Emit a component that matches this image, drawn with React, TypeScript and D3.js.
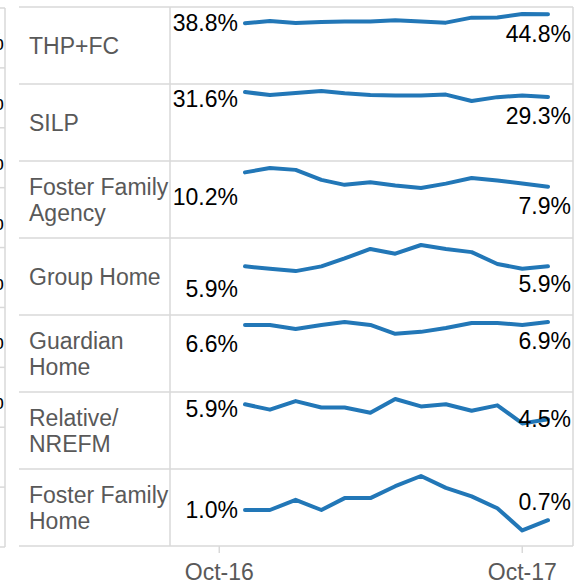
import React from "react";
import * as d3 from "d3";

// ---------- data ----------
const months = [
  "2016-11-01", "2016-12-01", "2017-01-01", "2017-02-01", "2017-03-01", "2017-04-01", "2017-05-01",
  "2017-06-01", "2017-07-01", "2017-08-01", "2017-09-01", "2017-10-01", "2017-11-01",
];
const categories = [
  "THP+FC", "SILP", "Foster Family Agency", "Group Home", "Guardian Home", "Relative/NREFM", "Foster Family Home",
];
const categoryLines = [
  ["THP+FC"], ["SILP"], ["Foster Family", "Agency"], ["Group Home"], ["Guardian", "Home"], ["Relative/", "NREFM"], ["Foster Family", "Home"],
];
const thpFc = [38.8, 40.3, 38.9, 39.6, 40.0, 39.9, 40.7, 40.0, 39.2, 42.5, 42.6, 44.9, 44.8];
const silp = [31.6, 30.2, 31.2, 32.1, 31.0, 30.2, 30.0, 30.0, 30.4, 27.4, 29.2, 30.0, 29.3];
const fosterFamilyAgency = [10.2, 10.9, 10.6, 9.0, 8.2, 8.6, 8.1, 7.7, 8.4, 9.3, 8.9, 8.4, 7.9];
const groupHome = [5.9, 5.6, 5.3, 5.9, 6.9, 8.1, 7.5, 8.6, 8.1, 7.7, 6.2, 5.6, 5.9];
const guardianHome = [6.6, 6.6, 6.2, 6.6, 6.9, 6.6, 5.7, 5.9, 6.3, 6.8, 6.8, 6.6, 6.9];
const relativeNrefm = [5.9, 5.4, 6.2, 5.6, 5.6, 5.1, 6.4, 5.7, 5.9, 5.3, 5.8, 4.1, 4.5];
const fosterFamilyHome = [1.0, 1.0, 1.3, 1.0, 1.35, 1.35, 1.7, 2.0, 1.65, 1.4, 1.05, 0.4, 0.7];
const seriesValues = [thpFc, silp, fosterFamilyAgency, groupHome, guardianHome, relativeNrefm, fosterFamilyHome];
const tickDates = ["2016-10-01", "2017-10-01"];
const tickLabels = ["Oct-16", "Oct-17"];

// ---------- layout (not data) ----------
const LABEL_SHIFT: [number, number][] = [
  [0, 20], [7, 19], [25, 19], [23, 18], [19, 19], [5, 0], [0, -18],
];
const FONT = "'Liberation Sans', Arial, Helvetica, sans-serif";
const GRID = "#d9d9d9";
const GREY_TEXT = "#595959";
const BLUE = "#2277b7";

export default function App() {
  const W = 583;
  const H = 584;
  const parse = d3.utcParse("%Y-%m-%d");
  const dates = months.map((m) => parse(m) as Date);
  const ext = d3.extent(dates) as [Date, Date];

  const tableLeft = 19;
  const panelLeft = 170;
  const panelRight = 573;
  const x = d3.scaleUtc().domain(ext).range([245, 548]);
  const rows = d3.scaleBand<string>().domain(categories).range([7, 546]);
  const step = rows.step();

  // partial neighbouring table on the far left
  const ghostRows = d3.scaleBand<number>().domain(d3.range(9)).range([8, 547]);

  const fs = 23;

  return (
    <svg
      width={W}
      height={H}
      style={{ position: "absolute", left: 0, top: 0, background: "#fff" }}
      fontFamily={FONT}
    >
      <rect width={W} height={H} fill="#fff" />
      {/* ghost table */}
      <line x1={5} x2={5} y1={ghostRows.range()[0]} y2={ghostRows.range()[1]} stroke={GRID} strokeWidth={1.5} />
      {d3.range(10).map((i) => {
        const y = ghostRows.range()[0] + i * ghostRows.step();
        return <line key={"g" + i} x1={0} x2={5} y1={y} y2={y} stroke={GRID} strokeWidth={1.5} />;
      })}
      {d3.range(7).map((i) => (
        <text key={"gp" + i} x={4} y={(ghostRows(i) as number) + ghostRows.bandwidth() / 2 + 12} fontSize={fs} textAnchor="end" fill="#000">
          %
        </text>
      ))}

      {/* table grid */}
      {categories.map((c, i) => {
        const y0 = rows(c) as number;
        return <line key={"h" + i} x1={tableLeft} x2={panelRight} y1={y0} y2={y0} stroke={GRID} strokeWidth={1.5} />;
      })}
      <line x1={tableLeft} x2={panelRight} y1={rows.range()[1]} y2={rows.range()[1]} stroke={GRID} strokeWidth={1.5} />
      <line x1={panelLeft} x2={panelLeft} y1={rows.range()[0]} y2={rows.range()[1]} stroke={GRID} strokeWidth={1.5} />
      <line x1={panelRight} x2={panelRight} y1={rows.range()[0]} y2={rows.range()[1]} stroke={GRID} strokeWidth={1.5} />

      {/* rows */}
      {categories.map((c, i) => {
        const top = rows(c) as number;
        const bottom = top + step;
        const vals = seriesValues[i];
        const y = d3.scaleLinear().domain([0, d3.max(vals) as number]).range([bottom - 2, top + 7]);
        const line = d3
          .line<number>()
          .x((_, j) => x(dates[j]))
          .y((v) => y(v))
          .curve(d3.curveLinear);
        const lines = categoryLines[i];
        const mid = top + step / 2;
        const lh = 26;
        const first = vals[0];
        const last = vals[vals.length - 1];
        const [ds, de] = LABEL_SHIFT[i];
        return (
          <g key={c}>
            <text fontSize={fs} fill={GREY_TEXT}>
              {lines.map((t, k) => (
                <tspan key={k} x={tableLeft + 10} y={mid + 8.5 + (k - (lines.length - 1) / 2) * lh}>
                  {t}
                </tspan>
              ))}
            </text>
            <path d={line(vals) as string} fill="none" stroke={BLUE} strokeWidth={4} strokeLinejoin="round" strokeLinecap="round" />
            <text x={x(dates[0]) - 7} y={y(first) + ds + 8} fontSize={fs} textAnchor="end" fill="#000">
              {first.toFixed(1) + "%"}
            </text>
            <text x={panelRight - 2} y={y(last) + de + 8} fontSize={fs} textAnchor="end" fill="#000">
              {last.toFixed(1) + "%"}
            </text>
          </g>
        );
      })}

      {/* x axis */}
      {tickDates.map((d, i) => {
        const xx = x(parse(d) as Date);
        const yb = rows.range()[1];
        return (
          <g key={d}>
            <line x1={xx} x2={xx} y1={yb} y2={yb + 7} stroke={GRID} strokeWidth={1.5} />
            <text x={xx} y={yb + 34} fontSize={fs} textAnchor="middle" fill={GREY_TEXT}>
              {tickLabels[i]}
            </text>
          </g>
        );
      })}
    </svg>
  );
}
